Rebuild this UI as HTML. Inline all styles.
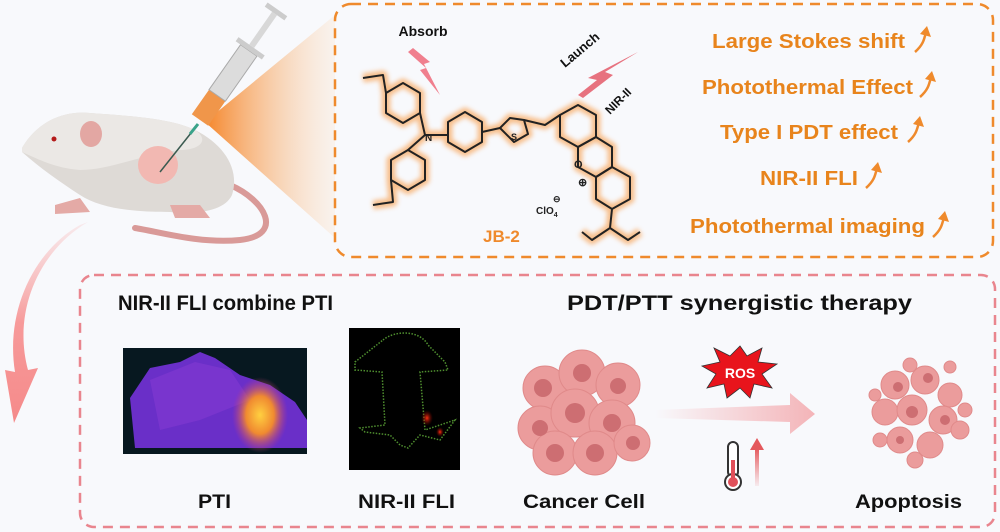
<!DOCTYPE html>
<html><head><meta charset="utf-8"><style>
html,body{margin:0;padding:0;background:#f8f9fc;}
svg{display:block;font-family:"Liberation Sans",Arial,sans-serif;font-weight:bold;}
</style></head><body>
<svg width="1000" height="532" viewBox="0 0 1000 532" xmlns="http://www.w3.org/2000/svg">
<defs>
<linearGradient id="cone" x1="0" x2="1" y1="0" y2="0"><stop offset="0" stop-color="#f5862a"/><stop offset="1" stop-color="#fbe3cc" stop-opacity="0.3"/></linearGradient>
<linearGradient id="parr" x1="0" x2="0" y1="0" y2="1"><stop offset="0" stop-color="#f7b0b0" stop-opacity="0.2"/><stop offset="0.5" stop-color="#f79a9a"/><stop offset="1" stop-color="#f58a8a"/></linearGradient>
<linearGradient id="harr" x1="0" x2="1"><stop offset="0" stop-color="#f4b4b8" stop-opacity="0"/><stop offset="1" stop-color="#f4b4b8"/></linearGradient>
<linearGradient id="varr" x1="0" x2="0" y1="1" y2="0"><stop offset="0" stop-color="#e86b6f" stop-opacity="0.1"/><stop offset="1" stop-color="#e4585c"/></linearGradient>
<radialGradient id="hot" cx="0.5" cy="0.5" r="0.5"><stop offset="0" stop-color="#ffd040"/><stop offset="0.5" stop-color="#f08a30"/><stop offset="1" stop-color="#c03a80" stop-opacity="0"/></radialGradient>
<radialGradient id="red" cx="0.5" cy="0.5" r="0.5"><stop offset="0" stop-color="#ff3010"/><stop offset="1" stop-color="#600" stop-opacity="0"/></radialGradient>
<filter id="glow"><feGaussianBlur stdDeviation="2.5"/></filter>
</defs>

<polygon points="205,122 335,15 335,238" fill="url(#cone)"/>

<rect x="335" y="4" width="658" height="253" rx="16" fill="none" stroke="#ef8a2c" stroke-width="2.5" stroke-dasharray="10,7"/>
<rect x="80" y="275" width="915" height="252" rx="14" fill="none" stroke="#e9858e" stroke-width="2.5" stroke-dasharray="10,7"/>

<path d="M230,185 C265,200 285,235 240,240 C200,244 160,232 135,228" fill="none" stroke="#d99a98" stroke-width="6" stroke-linecap="round"/>
<path d="M22,148 C35,125 60,110 90,113 C130,116 170,118 195,130 C225,145 240,170 232,195 C225,210 200,215 170,212 C130,212 100,208 80,195 C60,182 40,168 22,152 Z" fill="#dedad6"/>
<path d="M22,148 C35,125 60,110 90,113 C130,116 170,118 195,130 C210,140 200,150 180,150 C140,155 110,170 80,170 C55,168 40,160 22,152 Z" fill="#ebe8e5"/>
<ellipse cx="91" cy="134" rx="11" ry="13" fill="#e3a7a3"/>
<circle cx="54" cy="139" r="2.5" fill="#b41a1a"/>
<ellipse cx="158" cy="165" rx="20" ry="19" fill="#f2b8b2"/>
<path d="M55,205 L80,198 L90,212 L55,214 Z" fill="#e4aaa6"/>
<path d="M170,205 L200,205 L210,218 L175,218 Z" fill="#e4aaa6"/>
<line x1="160" y1="172" x2="195" y2="128" stroke="#3a5a50" stroke-width="1.5"/>
<line x1="190" y1="134" x2="198" y2="124" stroke="#3aa38a" stroke-width="3"/>
<g transform="translate(200,120) rotate(-55)">
<rect x="0" y="-10" width="30" height="20" fill="#f0964a"/>
<rect x="30" y="-10" width="55" height="20" fill="#dcdcdc" stroke="#aaa"/>
<rect x="85" y="-16" width="5" height="32" fill="#ccc"/>
<rect x="90" y="-3" width="40" height="6" fill="#d8d8d8"/>
<rect x="130" y="-12" width="5" height="24" fill="#ccc"/>
</g>

<path d="M88,222 C40,250 12,310 28,370 L38,368 L14,423 L5,370 L15,372 C5,310 35,250 80,225 Z" fill="url(#parr)"/>

<g fill="none" stroke-linejoin="round">
<g id="mol">
<polygon points="403,83 420,93 420,113 403,123 386,113 386,93"/>
<polygon points="408,150 425,160 425,180 408,190 391,180 391,160"/>
<polygon points="465,112 482,122 482,142 465,152 448,142 448,122"/>
<polygon points="500,128 510,118 524,120 528,134 514,142"/>
<polygon points="578,105 596,115 596,137 578,147 560,137 560,115"/>
<polygon points="596,137 612,147 612,167 596,177 578,167 578,147"/>
<polygon points="612,167 630,177 630,199 612,209 596,199 596,177"/>
<path d="M420,113 L425,135 L408,150 M425,135 L448,135 M386,93 L383,75 L363,78 M391,180 L393,202 L373,205 M482,132 L500,128 M524,120 L545,125 L560,115 M612,209 L610,228 L592,240 L582,232 M610,228 L628,240 L640,232"/>
</g>
<use href="#mol" stroke="#f7b070" stroke-width="9" filter="url(#glow)" opacity="0.8"/>
<use href="#mol" stroke="#222" stroke-width="2"/>
</g>
<text x="425" y="141" font-size="10" fill="#222">N</text>
<text x="511" y="140" font-size="9" fill="#222">S</text>
<text x="574" y="168" font-size="11" fill="#222">O</text>
<text x="578" y="186" font-size="11" fill="#222">⊕</text>
<text x="536" y="214" font-size="10" fill="#222">ClO<tspan font-size="7" dy="3">4</tspan></text>
<text x="553" y="202" font-size="9" fill="#222">⊖</text>
<text x="483" y="242" font-size="17" fill="#ef8a2c">JB-2</text>

<text x="423" y="36" font-size="14" fill="#111" text-anchor="middle">Absorb</text>
<polygon points="413,48 430,62 424,64 440,95 420,70 426,68 408,52" fill="#f07f8e"/>
<text x="0" y="0" font-size="13" fill="#111" transform="translate(565,68) rotate(-40)">Launch</text>
<text x="0" y="0" font-size="12" fill="#111" transform="translate(610,115) rotate(-45)">NIR-II</text>
<polygon points="578,95 597,80 588,78 638,52 605,72 613,75 583,98" fill="#e7727f"/>

<g font-size="20" fill="#e8841c">
<text x="712" y="48" textLength="193" lengthAdjust="spacingAndGlyphs">Large Stokes shift</text>
<text x="702" y="94" textLength="211" lengthAdjust="spacingAndGlyphs">Photothermal Effect</text>
<text x="720" y="139" textLength="178" lengthAdjust="spacingAndGlyphs">Type I PDT effect</text>
<text x="760" y="185" textLength="98" lengthAdjust="spacingAndGlyphs">NIR-II FLI</text>
<text x="690" y="233" textLength="235" lengthAdjust="spacingAndGlyphs">Photothermal imaging</text>
</g>
<g fill="none" stroke="#ef8a2c" stroke-width="2.5">
<path d="M915,52 C923,45 924,40 926,32"/><path d="M920,97 C928,90 929,85 931,77"/>
<path d="M908,142 C916,135 917,130 919,122"/><path d="M866,188 C874,181 875,176 877,168"/>
<path d="M933,237 C941,230 942,225 944,217"/>
</g>
<g fill="#ef8a2c">
<polygon points="920,34 927,26 931,37"/><polygon points="925,79 932,71 936,82"/>
<polygon points="913,124 920,116 924,127"/><polygon points="871,170 878,162 882,173"/>
<polygon points="938,219 945,211 949,222"/>
</g>

<g font-size="21" fill="#111">
<text x="118" y="310" textLength="215" lengthAdjust="spacingAndGlyphs">NIR-II FLI combine PTI</text>
<text x="567" y="310" textLength="345" lengthAdjust="spacingAndGlyphs">PDT/PTT synergistic therapy</text>
</g>
<g font-size="19" fill="#111">
<text x="198" y="508" textLength="33" lengthAdjust="spacingAndGlyphs">PTI</text>
<text x="358" y="508" textLength="97" lengthAdjust="spacingAndGlyphs">NIR-II FLI</text>
<text x="523" y="508" textLength="122" lengthAdjust="spacingAndGlyphs">Cancer Cell</text>
<text x="855" y="508" textLength="107" lengthAdjust="spacingAndGlyphs">Apoptosis</text>
</g>

<rect x="123" y="348" width="184" height="106" fill="#071820"/>
<path d="M130,398 L150,368 L180,362 L200,352 L215,358 L240,375 L270,385 L295,402 L307,420 L307,448 L135,448 Z" fill="#6a2fc8"/>
<path d="M150,380 L195,362 L230,370 L250,400 L200,420 L160,430 Z" fill="#8038d0" opacity="0.7"/>
<ellipse cx="260" cy="415" rx="28" ry="38" fill="url(#hot)"/>

<rect x="349" y="328" width="111" height="142" fill="#000"/>
<path d="M383,340 C395,330 420,330 428,345 L445,362 L448,370 L420,372 L425,430 L455,420 L440,440 L420,435 L408,448 L400,445 L390,435 L365,432 L360,428 L385,425 L382,372 L355,370 L355,362 Z" fill="none" stroke="#4f8f2f" stroke-width="1.5" stroke-dasharray="1.5,1.5"/>
<ellipse cx="427" cy="418" rx="6" ry="8" fill="url(#red)"/>
<ellipse cx="440" cy="432" rx="4" ry="5" fill="url(#red)"/>

<g fill="#eb9c9c" stroke="#e08a8a">
<circle cx="545" cy="388" r="22"/><circle cx="582" cy="373" r="23"/><circle cx="618" cy="385" r="22"/>
<circle cx="540" cy="428" r="22"/><circle cx="575" cy="413" r="24"/><circle cx="612" cy="423" r="23"/>
<circle cx="555" cy="453" r="22"/><circle cx="595" cy="453" r="22"/><circle cx="632" cy="443" r="18"/>
</g>
<g fill="#cd6e72">
<circle cx="543" cy="388" r="9"/><circle cx="582" cy="373" r="9"/><circle cx="618" cy="386" r="8"/>
<circle cx="540" cy="428" r="8"/><circle cx="575" cy="413" r="10"/><circle cx="612" cy="423" r="9"/>
<circle cx="555" cy="453" r="9"/><circle cx="595" cy="453" r="9"/><circle cx="633" cy="443" r="7"/>
</g>

<polygon points="655,410 790,405 790,393 815,414 790,434 790,422 655,418" fill="url(#harr)"/>
<polygon points="740,346 747,356 762,348 758,362 777,364 762,374 772,388 754,384 750,398 740,388 727,398 724,384 707,388 716,374 702,366 720,362 714,348 730,356" fill="#e8141c" stroke="#333" stroke-width="0.8"/>
<text x="740" y="378" font-size="14" fill="#fff" text-anchor="middle">ROS</text>
<rect x="728" y="442" width="10" height="35" rx="5" fill="#fff" stroke="#333" stroke-width="2"/>
<circle cx="733" cy="482" r="8" fill="#fff" stroke="#333" stroke-width="2"/>
<circle cx="733" cy="482" r="5" fill="#e0505a"/><rect x="731" y="460" width="4" height="20" fill="#e0505a"/>
<rect x="755" y="448" width="4" height="38" fill="url(#varr)"/>
<polygon points="750,450 757,438 764,450" fill="#e4585c"/>

<g transform="translate(50,0)">
<g fill="#eb9c9c" stroke="#e08a8a">
<circle cx="845" cy="385" r="14"/><circle cx="875" cy="380" r="14"/><circle cx="900" cy="395" r="12"/>
<circle cx="835" cy="412" r="13"/><circle cx="862" cy="410" r="15"/><circle cx="893" cy="420" r="14"/>
<circle cx="850" cy="440" r="13"/><circle cx="880" cy="445" r="13"/><circle cx="910" cy="430" r="9"/>
<circle cx="830" cy="440" r="7"/><circle cx="860" cy="365" r="7"/><circle cx="900" cy="367" r="6"/>
<circle cx="865" cy="460" r="8"/><circle cx="825" cy="395" r="6"/><circle cx="915" cy="410" r="7"/>
</g>
<g fill="#cd6e72"><circle cx="848" cy="387" r="5"/><circle cx="878" cy="378" r="5"/><circle cx="862" cy="412" r="6"/><circle cx="895" cy="420" r="5"/><circle cx="850" cy="440" r="4"/></g>
</g>
</svg>
</body></html>
